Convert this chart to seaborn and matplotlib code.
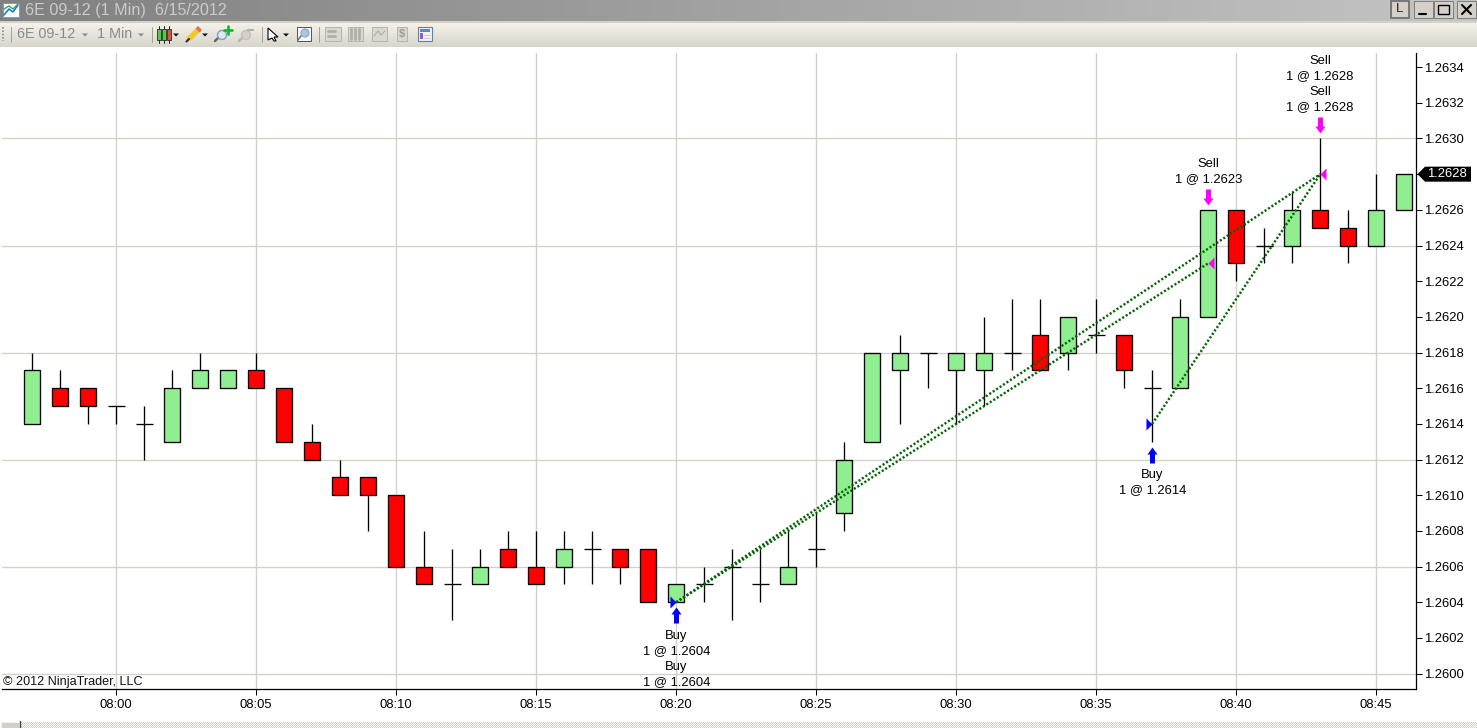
import numpy as np
import pandas as pd
import seaborn as sns
import matplotlib
matplotlib.use("Agg")
import matplotlib.pyplot as plt
from matplotlib.colors import LinearSegmentedColormap, ListedColormap
from matplotlib.path import Path
from matplotlib.patches import Rectangle, Polygon

# 1 minute bars of 6E 09-12
bar_times = ["07:57", "07:58", "07:59", "08:00", "08:01", "08:02", "08:03", "08:04", "08:05", "08:06",
             "08:07", "08:08", "08:09", "08:10", "08:11", "08:12", "08:13", "08:14", "08:15", "08:16",
             "08:17", "08:18", "08:19", "08:20", "08:21", "08:22", "08:23", "08:24", "08:25", "08:26",
             "08:27", "08:28", "08:29", "08:30", "08:31", "08:32", "08:33", "08:34", "08:35", "08:36",
             "08:37", "08:38", "08:39", "08:40", "08:41", "08:42", "08:43", "08:44", "08:45", "08:46"]
opens = [1.2614, 1.2616, 1.2616, 1.2615, 1.2614, 1.2613, 1.2616, 1.2616, 1.2617, 1.2616,
         1.2613, 1.2611, 1.2611, 1.2610, 1.2606, 1.2605, 1.2605, 1.2607, 1.2606, 1.2606,
         1.2607, 1.2607, 1.2607, 1.2604, 1.2605, 1.2606, 1.2605, 1.2605, 1.2607, 1.2609,
         1.2613, 1.2617, 1.2618, 1.2617, 1.2617, 1.2618, 1.2619, 1.2618, 1.2619, 1.2619,
         1.2616, 1.2616, 1.2620, 1.2626, 1.2624, 1.2624, 1.2626, 1.2625, 1.2624, 1.2626]
highs = [1.2618, 1.2617, 1.2616, 1.2615, 1.2615, 1.2617, 1.2618, 1.2617, 1.2618, 1.2616,
         1.2614, 1.2612, 1.2611, 1.2610, 1.2608, 1.2607, 1.2607, 1.2608, 1.2608, 1.2608,
         1.2608, 1.2607, 1.2607, 1.2605, 1.2606, 1.2607, 1.2607, 1.2608, 1.2609, 1.2613,
         1.2618, 1.2619, 1.2618, 1.2618, 1.2620, 1.2621, 1.2621, 1.2620, 1.2621, 1.2619,
         1.2617, 1.2621, 1.2626, 1.2626, 1.2625, 1.2627, 1.2630, 1.2626, 1.2628, 1.2628]
lows = [1.2614, 1.2615, 1.2614, 1.2614, 1.2612, 1.2613, 1.2616, 1.2616, 1.2616, 1.2613,
        1.2612, 1.2610, 1.2608, 1.2606, 1.2605, 1.2603, 1.2605, 1.2606, 1.2605, 1.2605,
        1.2605, 1.2605, 1.2604, 1.2604, 1.2604, 1.2603, 1.2604, 1.2605, 1.2606, 1.2608,
        1.2613, 1.2614, 1.2616, 1.2614, 1.2615, 1.2617, 1.2617, 1.2617, 1.2618, 1.2616,
        1.2613, 1.2616, 1.2620, 1.2622, 1.2623, 1.2623, 1.2625, 1.2623, 1.2624, 1.2626]
closes = [1.2617, 1.2615, 1.2615, 1.2615, 1.2614, 1.2616, 1.2617, 1.2617, 1.2616, 1.2613,
          1.2612, 1.2610, 1.2610, 1.2606, 1.2605, 1.2605, 1.2606, 1.2606, 1.2605, 1.2607,
          1.2607, 1.2606, 1.2604, 1.2605, 1.2605, 1.2606, 1.2605, 1.2606, 1.2607, 1.2612,
          1.2618, 1.2618, 1.2618, 1.2618, 1.2618, 1.2618, 1.2617, 1.2620, 1.2619, 1.2617,
          1.2616, 1.2620, 1.2626, 1.2623, 1.2624, 1.2626, 1.2625, 1.2624, 1.2626, 1.2628]

# executions: time, price
buy_times = ["08:20", "08:37"]
buy_prices = [1.2604, 1.2614]
sell_times = ["08:39", "08:43"]
sell_prices = [1.2623, 1.2628]
trade_entry_times = ["08:20", "08:20", "08:37"]
trade_entry_prices = [1.2604, 1.2604, 1.2614]
trade_exit_times = ["08:39", "08:43", "08:43"]
trade_exit_prices = [1.2623, 1.2628, 1.2628]

x_tick_labels = ["08:00", "08:05", "08:10", "08:15", "08:20", "08:25", "08:30", "08:35", "08:40", "08:45"]
y_ticks = [1.2600, 1.2602, 1.2604, 1.2606, 1.2608, 1.2610, 1.2612, 1.2614, 1.2616,
           1.2618, 1.2620, 1.2622, 1.2624, 1.2626, 1.2628, 1.2630, 1.2632, 1.2634]
y_grid = [1.2600, 1.2606, 1.2612, 1.2618, 1.2624, 1.2630]
last_price = 1.2628

W, H = 1477, 728
GRID = "#d2d0c8"
FONT_PX = 13 * 0.72


def to_min(t):
    h, m = t.split(":")
    return (int(h) - 8) * 60 + int(m)


def arrow_marker(direction, gap=5):
    # fat arrow, drawn in pixels from the anchor price; gap is the space to the bar
    verts = np.array([(0, gap), (5, gap + 7), (2.5, gap + 7), (2.5, gap + 16),
                      (-2.5, gap + 16), (-2.5, gap + 7), (-5, gap + 7), (0, gap)], dtype=float)
    if direction == "up":
        verts[:, 1] *= -1
    return Path(verts, closed=True), (2 * np.abs(verts).max() * 0.72) ** 2


sns.set_theme(style="white")
plt.rcParams["font.family"] = ["Liberation Sans", "DejaVu Sans"]
plt.rcParams["font.size"] = FONT_PX

df = pd.DataFrame({"time": bar_times, "open": opens, "high": highs, "low": lows, "close": closes})
df["x"] = df["time"].map(to_min)
df["bottom"] = df[["open", "close"]].min(axis=1)
df["body"] = (df["close"] - df["open"]).abs()
up = df[df["close"] > df["open"]]
down = df[df["close"] < df["open"]]
doji = df[df["close"] == df["open"]]

fig = plt.figure(figsize=(W / 100, H / 100), dpi=100, facecolor="white")
ax = fig.add_axes([2 / W, 1 - 689 / H, (1416 - 2) / W, (689 - 53) / H])

# wicks first, bodies on top
ax.vlines(df["x"], df["low"], df["high"], color="black", lw=0.95, zorder=2)
for part, colour in [(up, "#90ee90"), (down, "#ff0000")]:
    sns.barplot(data=part, x="x", y="body", bottom=part["bottom"].values, native_scale=True,
                width=0.58, color=colour, saturation=1, errorbar=None,
                edgecolor="black", linewidth=0.95, zorder=3, ax=ax)
ax.hlines(doji["close"], doji["x"] - 0.3, doji["x"] + 0.3, color="black", lw=0.95, zorder=3)

# round trip lines
trades = pd.DataFrame({
    "trade": [0, 0, 1, 1, 2, 2],
    "x": [to_min(t) for pair in zip(trade_entry_times, trade_exit_times) for t in pair],
    "price": [p for pair in zip(trade_entry_prices, trade_exit_prices) for p in pair],
})
sns.lineplot(data=trades, x="x", y="price", units="trade", estimator=None, color="#006400",
             lw=1.75, linestyle=(0, (0.85, 0.85)), zorder=5, ax=ax, legend=False)

# entry / exit triangles
tri_right = Path([(-1, -1), (0, 0), (-1, 1), (-1, -1)], closed=True)
tri_left = Path([(1, -1), (0, 0), (1, 1), (1, -1)], closed=True)
sns.scatterplot(x=[to_min(t) for t in buy_times], y=buy_prices, marker=tri_right, s=75,
                color="#0000ff", linewidth=0, zorder=6, ax=ax, legend=False)
sns.scatterplot(x=[to_min(t) for t in sell_times], y=sell_prices, marker=tri_left, s=75,
                color="#ff00ff", linewidth=0, zorder=6, ax=ax, legend=False)

# arrows and labels hang off the bar low / high
high_by_time = dict(zip(bar_times, highs))
low_by_time = dict(zip(bar_times, lows))
for t, p in zip(buy_times, buy_prices):
    m, s = arrow_marker("up")
    ax.scatter([to_min(t)], [low_by_time[t]], marker=m, s=s, color="#0000ff", linewidths=0, zorder=6)
for t, p in zip(sell_times, sell_prices):
    m, s = arrow_marker("down")
    ax.scatter([to_min(t)], [high_by_time[t]], marker=m, s=s, color="#ff00ff", linewidths=0, zorder=6)


def label(text, t, price, dy):
    ax.annotate(text, (to_min(t), price), xytext=(0, dy), textcoords="offset pixels",
                ha="center", va="center", fontsize=FONT_PX, color="black", zorder=7)


for i, (t, p) in enumerate(zip(trade_entry_times[:2], trade_entry_prices[:2])):
    label("Buy", t, low_by_time[t], -33.5 - 31 * i)
    label(f"1 @ {p:.4f}", t, low_by_time[t], -48.5 - 31 * i)
label("Buy", "08:37", low_by_time["08:37"], -33)
label("1 @ 1.2614", "08:37", low_by_time["08:37"], -48)
label("1 @ 1.2623", "08:39", high_by_time["08:39"], 31)
label("Sell", "08:39", high_by_time["08:39"], 46)
for i in range(2):
    label("1 @ 1.2628", "08:43", high_by_time["08:43"], 31 + 31 * i)
    label("Sell", "08:43", high_by_time["08:43"], 46 + 31 * i)

# scales, 28 px per minute and 178350 px per price unit
ax.set_xlim((2 - 116.2) / 28, (1416 - 116.2) / 28)
ax.set_ylim(1.2630 - (689 - 138.5) / 178350, 1.2630 + (138.5 - 53) / 178350)
ax.set_xticks([to_min(t) for t in x_tick_labels])
ax.set_xticklabels(x_tick_labels, fontsize=FONT_PX)
ax.set_yticks(y_ticks)
# the last price tag takes the place of its own tick label
ax.set_yticklabels(["" if v == last_price else f"{v:.4f}" for v in y_ticks], fontsize=FONT_PX)
ax.set_xlabel("")
ax.set_ylabel("")
ax.yaxis.tick_right()
ax.tick_params(axis="both", length=4.3, width=0.75, color="black", pad=1.5, labelcolor="black",
               bottom=True, right=True)
ax.tick_params(axis="x", pad=3)
for v in y_grid:
    ax.axhline(v, color=GRID, lw=0.95, zorder=1)
for t in x_tick_labels:
    ax.axvline(to_min(t), color=GRID, lw=0.95, zorder=1)
for side in ["top", "left"]:
    ax.spines[side].set_visible(False)
for side in ["right", "bottom"]:
    ax.spines[side].set_visible(True)
    ax.spines[side].set_color("black")
    ax.spines[side].set_linewidth(0.9)
ax.text(1 / 1414, 6.5 / 636, "\u00a9 2012 NinjaTrader, LLC", transform=ax.transAxes,
        ha="left", va="center", fontsize=9.1, color="#111111", zorder=7)

# window chrome on a pixel sized overlay
ui = fig.add_axes([0, 0, 1, 1], zorder=10)
ui.axis("off")
ui.patch.set_alpha(0)

title_grad = np.linspace(0, 1, 256).reshape(1, -1)
ui.imshow(title_grad, extent=(0, W, 21, 0), cmap=LinearSegmentedColormap.from_list(
    "t", ["#808080", "#c4c4c4"]), aspect="auto", zorder=1)
tool_grad = np.linspace(0, 1, 64).reshape(-1, 1)
ui.imshow(tool_grad, extent=(0, W, 47, 22), cmap=LinearSegmentedColormap.from_list(
    "b", ["#f5f3ea", "#d8d5cb"]), aspect="auto", zorder=1)
# dithered scrollbar track
checker = np.indices((6, W - 20)).sum(axis=0) % 2
ui.imshow(checker, extent=(20, W, 728, 722), cmap=ListedColormap(["#ffffff", "#d4d0c8"]),
          aspect="auto", interpolation="nearest", zorder=2)
ui.set_xlim(0, W)
ui.set_ylim(H, 0)
ui.add_patch(Rectangle((0, 21), W, 1.5, fc="#d4d0c8", ec="none", zorder=2))
ui.text(25, 10, "6E 09-12 (1 Min)  6/15/2012", color="#cbcbcb", fontsize=11.6, va="center", ha="left",
        zorder=3)

# title icon
ui.add_patch(Rectangle((3, 3), 16, 14, fc="white", ec="#7f9db9", lw=0.7, zorder=3))
ui.plot([4, 9, 13, 18], [15, 9, 12, 5], color="#1c7fd6", lw=1.2, zorder=4)
ui.plot([4, 9, 13, 18], [9, 6, 9, 4], color="#39a845", lw=1.0, zorder=4)

# window buttons
for x0, x1 in [(1414, 1433), (1434, 1453), (1457, 1476)]:
    ui.add_patch(Rectangle((x0, 1), x1 - x0, 17, fc="#d4d0c8", ec="#7d7d7d", lw=0.7, zorder=3))
ui.add_patch(Rectangle((1391, 1), 18, 17, fc="#d4d0c8", ec="#6a6a6a", lw=1.2, zorder=3))
ui.text(1399.5, 9.5, "L", color="#222222", fontsize=9.5, ha="center", va="center", zorder=4)
ui.plot([1419, 1426], [14, 14], color="black", lw=1.5, zorder=4)
ui.add_patch(Rectangle((1438, 5), 11, 9, fc="none", ec="black", lw=1.0, zorder=4))
ui.plot([1462, 1471], [5, 14], color="black", lw=1.5, zorder=4)
ui.plot([1471, 1462], [5, 14], color="black", lw=1.5, zorder=4)

# toolbar
ui.plot([3, 3], [27, 41], color="#8a8a8a", lw=1.2, linestyle=(0, (1, 1)), zorder=3)
for sep in [11, 152, 262, 319]:
    ui.plot([sep, sep], [27, 42], color="#a0a0a0", lw=0.7, zorder=3)
ui.text(17, 34.5, "6E 09-12", color="#8a8a8a", fontsize=10.4, ha="left", va="center", zorder=3)
ui.text(97, 34.5, "1 Min", color="#8a8a8a", fontsize=10.4, ha="left", va="center", zorder=3)
for tx, tc in [(85, "#888888"), (141, "#888888"), (176, "#111111"), (205, "#111111"), (286, "#111111")]:
    ui.add_patch(Polygon([(tx - 3, 33.5), (tx + 3, 33.5), (tx, 36.5)], fc=tc, ec="none", zorder=3))
for bx, c in [(157, "#50d040"), (162, "#50d040"), (167, "#f04a38")]:
    ui.plot([bx + 2, bx + 2], [26, 43], color="#222222", lw=0.7, zorder=3)
    ui.add_patch(Rectangle((bx, 29), 4, 11, fc=c, ec="#2b2b2b", lw=0.6, zorder=4))
ui.plot([189, 199], [39, 29], color="#f0c830", lw=4, solid_capstyle="butt", zorder=3)
ui.plot([186.5, 189], [41.5, 39], color="#333333", lw=1.6, zorder=4)
ui.plot([197.5, 200], [30.5, 28], color="#e07050", lw=4, solid_capstyle="butt", zorder=4)
# magnifiers
for mx, ink, sign, handle in [(219, "#7fa0c4", "#18b02e", "#666666"), (243, "#c0c0c0", "#b0b0b0", "#b8b8b8")]:
    ui.plot([mx - 4, mx], [41, 37], color=handle, lw=1.8, zorder=3)
    ui.add_patch(plt.Circle((mx + 3, 35), 4.5, fc="#dfe7f0" if mx < 230 else "#d0d0cc", ec=ink, lw=1.0, zorder=3))
ui.plot([224, 232], [30, 30], color="#18b02e", lw=1.9, zorder=4)
ui.plot([228, 228], [26, 34], color="#18b02e", lw=1.9, zorder=4)
ui.plot([248, 253], [30, 30], color="#b0b0b0", lw=1.6, zorder=4)
# arrow tool and zoom box
ui.add_patch(Polygon([(268, 28), (278, 37), (274, 37), (276, 41), (274, 41), (272, 38), (268, 40)],
                     fc="white", ec="black", lw=0.8, zorder=3))
ui.add_patch(Rectangle((297, 27), 14, 14, fc="#f8f8f8", ec="#555555", lw=0.7, zorder=3))
ui.add_patch(plt.Circle((305, 33), 4, fc="#a9c4e4", ec="#8aa8c8", lw=0.8, zorder=4))
ui.plot([298, 301], [40, 36], color="#777777", lw=1.2, zorder=4)
# disabled chart icons
for gx, gw in [(325, 16), (348, 15), (372, 15), (397, 10)]:
    ui.add_patch(Rectangle((gx, 27), gw, 14, fc="#d8d8d0", ec="#b4b4ac", lw=0.7, zorder=3))
for bx in [351, 355, 359]:
    ui.plot([bx, bx], [29, 39], color="#b0b0a8", lw=2, zorder=4)
ui.plot([374, 378, 381, 385], [36, 31, 35, 31], color="#b0b0a8", lw=0.8, zorder=4)
ui.plot([328, 335], [31, 31], color="#b0b0a8", lw=2, zorder=4)
ui.plot([328, 335], [36, 36], color="#b0b0a8", lw=2, zorder=4)
ui.text(402, 34, "$", color="#9c9c94", fontsize=8, fontweight="bold", ha="center", va="center", zorder=4)
ui.add_patch(Rectangle((418, 27), 14, 14, fc="#eef3fa", ec="#6a7f96", lw=0.8, zorder=3))
ui.add_patch(Rectangle((420, 29), 10, 2.5, fc="#4a8fd0", ec="none", zorder=4))
ui.add_patch(Rectangle((420, 33), 2.5, 6, fc="#a050e0", ec="none", zorder=4))
ui.plot([424, 430], [35, 35], color="#c8c8c8", lw=0.7, zorder=4)
ui.plot([424, 430], [38, 38], color="#c8c8c8", lw=0.7, zorder=4)

# last price tag, y follows the price scale
tag_y = H - ax.transData.transform((0, last_price))[1]
ui.add_patch(Polygon([(1417.5, tag_y), (1425, tag_y - 7.5), (1471, tag_y - 7.5),
                      (1471, tag_y + 7.5), (1425, tag_y + 7.5)], fc="black", ec="none", zorder=5))
ui.text(1427, tag_y, f"{last_price:.4f}", color="white", fontsize=FONT_PX, ha="left", va="center", zorder=6)

# scrollbar thumb
ui.add_patch(Rectangle((0.5, 721.5), 18, 7, fc="#d4d0c8", ec="#f4f4f4", lw=0.7, zorder=3))
ui.plot([19.5, 19.5], [721, 728], color="#404040", lw=1, zorder=3)

fig.savefig("out.png", dpi=100)
